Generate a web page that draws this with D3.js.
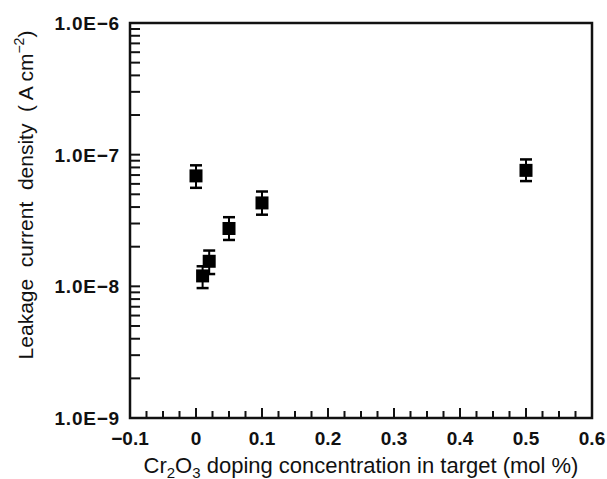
<!DOCTYPE html>
<html>
<head>
<meta charset="utf-8">
<script src="https://cdn.jsdelivr.net/npm/d3@7"></script>
<style>
  html, body { margin: 0; padding: 0; background: #fff; overflow: hidden; }
  svg { display: block; overflow: visible; }
</style>
</head>
<body>
<svg width="607" height="479" viewBox="0 0 607 479"></svg>
<script>
// doping concentration (mol %) and leakage current density (A cm^-2)
const dopings = [0, 0.01, 0.02, 0.05, 0.1, 0.5];
const leakage = [6.9e-8, 1.2e-8, 1.55e-8, 2.75e-8, 4.3e-8, 7.6e-8];
const errHigh = [8.3e-8, 1.42e-8, 1.87e-8, 3.35e-8, 5.25e-8, 9.2e-8];
const errLow = [5.6e-8, 9.7e-9, 1.24e-8, 2.25e-8, 3.5e-8, 6.3e-8];

const xTicks = [-0.1, 0, 0.1, 0.2, 0.3, 0.4, 0.5, 0.6];
const yTicks = [1e-9, 1e-8, 1e-7, 1e-6];
const yTickLabels = ["1.0E\u22129", "1.0E\u22128", "1.0E\u22127", "1.0E\u22126"];

const svg = d3.select("svg")
  .attr("font-family", "'Liberation Sans', Arial, sans-serif");
const margin = { top: 23, right: 15, bottom: 61, left: 130 };
const width = 607;
const height = 479;
const innerWidth = width - margin.left - margin.right;
const innerHeight = height - margin.top - margin.bottom;

const xScale = d3.scaleLinear().domain([-0.1, 0.6]).range([0, innerWidth]);
const yScale = d3.scaleLog().domain([1e-9, 1e-6]).range([innerHeight, 0]);

const g = svg.append("g")
  .attr("transform", `translate(${margin.left}, ${margin.top})`);

// minor ticks on x (every 0.025), longer at the labelled ones
const xMinor = d3.range(-0.1, 0.6001, 0.025).map(v => +v.toFixed(3));
g.append("g")
  .selectAll("line")
  .data(xMinor)
  .enter()
  .append("line")
  .attr("x1", d => xScale(d))
  .attr("x2", d => xScale(d))
  .attr("y1", innerHeight)
  .attr("y2", d => Math.abs(d * 10 - Math.round(d * 10)) < 1e-6 ? innerHeight - 10 : innerHeight - 7)
  .attr("stroke", "#111")
  .attr("stroke-width", 2);

// log ticks on y
const yMinor = [];
for (let e = -9; e < -6; e++) {
  for (let k = 1; k <= 9; k++) yMinor.push(k * Math.pow(10, e));
}
g.append("g")
  .selectAll("line")
  .data(yMinor)
  .enter()
  .append("line")
  .attr("x1", 0)
  .attr("x2", 10)
  .attr("y1", d => yScale(d))
  .attr("y2", d => yScale(d))
  .attr("stroke", "#111")
  .attr("stroke-width", 2);

// frame
g.append("rect")
  .attr("width", innerWidth)
  .attr("height", innerHeight)
  .attr("fill", "none")
  .attr("stroke", "#111")
  .attr("stroke-width", 2.5);

// tick labels
g.append("g")
  .selectAll("text")
  .data(xTicks)
  .enter()
  .append("text")
  .attr("x", d => xScale(d))
  .attr("y", innerHeight + 27)
  .attr("text-anchor", "middle")
  .attr("font-size", 19)
  .attr("font-weight", "bold")
  .attr("fill", "#111")
  .text(d => d === 0 ? "0" : d3.format(".1f")(d).replace("-", "\u2212"));

g.append("g")
  .selectAll("text")
  .data(yTicks)
  .enter()
  .append("text")
  .attr("x", -10)
  .attr("y", d => yScale(d) + 7)
  .attr("text-anchor", "end")
  .attr("font-size", 19)
  .attr("font-weight", "bold")
  .attr("fill", "#111")
  .attr("letter-spacing", 0.8)
  .text((d, i) => yTickLabels[i]);

// axis titles
const xTitle = svg.append("text")
  .attr("x", 361)
  .attr("y", 473)
  .attr("text-anchor", "middle")
  .attr("font-size", 22)
  .attr("fill", "#111");
xTitle.append("tspan").text("Cr");
xTitle.append("tspan").attr("font-size", 15).attr("dy", 5).text("2");
xTitle.append("tspan").attr("dy", -5).text("O");
xTitle.append("tspan").attr("font-size", 15).attr("dy", 5).text("3");
xTitle.append("tspan").attr("dy", -5).text(" doping concentration in target (mol %)");

const yTitle = svg.append("text")
  .attr("transform", "translate(33, 195) rotate(-90)")
  .attr("text-anchor", "middle")
  .attr("font-size", 21)
  .attr("fill", "#111")
  .style("white-space", "pre");
yTitle.append("tspan").text("Leakage  current  density  ( A cm");
yTitle.append("tspan").attr("font-size", 14).attr("dy", -9).text("\u22122");
yTitle.append("tspan").attr("dy", 9).text(")");

// error bars and markers
const pts = g.append("g")
  .selectAll("g")
  .data(dopings)
  .enter()
  .append("g");

pts.append("line")
  .attr("x1", d => xScale(d))
  .attr("x2", d => xScale(d))
  .attr("y1", (d, i) => yScale(errHigh[i]))
  .attr("y2", (d, i) => yScale(errLow[i]))
  .attr("stroke", "#000")
  .attr("stroke-width", 2);

[errHigh, errLow].forEach(arr => {
  pts.append("line")
    .attr("x1", d => xScale(d) - 6)
    .attr("x2", d => xScale(d) + 6)
    .attr("y1", (d, i) => yScale(arr[i]))
    .attr("y2", (d, i) => yScale(arr[i]))
    .attr("stroke", "#000")
    .attr("stroke-width", 2.5);
});

pts.append("rect")
  .attr("x", d => xScale(d) - 6.5)
  .attr("y", (d, i) => yScale(leakage[i]) - 6.5)
  .attr("width", 13)
  .attr("height", 13)
  .attr("fill", "#000");
</script>
</body>
</html>
